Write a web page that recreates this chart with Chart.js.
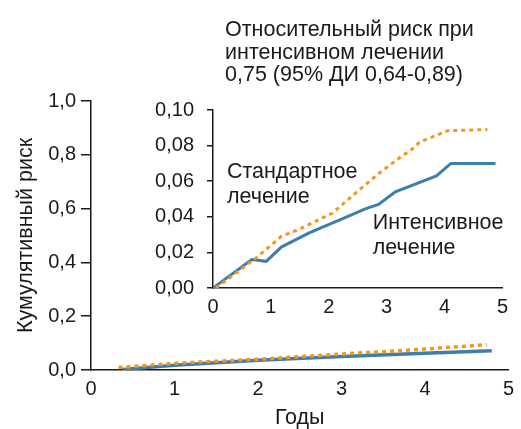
<!DOCTYPE html>
<html>
<head>
<meta charset="utf-8">
<script src="https://cdn.jsdelivr.net/npm/chart.js@4"></script>
<style>
    body { margin: 0; background: #fff; }
    #wrap { position: relative; width: 521px; height: 429px; }
    #main_chart { position: absolute; left: 0; top: 0; }
    #inset_chart { position: absolute; left: 120px; top: 85px; }
</style>
</head>
<body>
<div id="wrap">
    <canvas id="main_chart" width="521" height="429"></canvas>
    <canvas id="inset_chart" width="395" height="240"></canvas>
</div>
<script>
// main chart (full 0-1 scale)
const mainIntensiveYears = [0.38, 1, 2, 3, 4, 4.8];
const mainIntensiveRisk = [0.002, 0.018, 0.036, 0.05, 0.062, 0.072];
const mainStandardYears = [0.33, 1, 2, 3, 4, 4.74];
const mainStandardRisk = [0.009, 0.025, 0.04, 0.059, 0.078, 0.094];

// inset (0-0.10 scale)
const intensiveYears = [0, 0.67, 0.92, 1.18, 1.66, 2.17, 2.63, 2.86, 3.15, 3.86, 4.11, 4.88];
const intensiveRisk = [0, 0.016, 0.015, 0.023, 0.031, 0.038, 0.0445, 0.047, 0.054, 0.063, 0.070, 0.070];
const standardYears = [0.05, 0.75, 1.18, 1.49, 2.06, 2.63, 2.89, 3.15, 3.43, 3.57, 4.06, 4.74];
const standardRisk = [0, 0.017, 0.029, 0.033, 0.042, 0.058, 0.065, 0.0714, 0.0778, 0.082, 0.0884, 0.089];

const noteLines = ['Относительный риск при', 'интенсивном лечении', '0,75 (95% ДИ 0,64-0,89)'];
const standardLabel = ['Стандартное', 'лечение'];
const intensiveLabel = ['Интенсивное', 'лечение'];

const blue = '#3d7eab';
const orange = '#f7941d';
const ink = '#1a1a1a';
const fontFamily = '"Liberation Sans", Arial, sans-serif';
const textSize = 21.5;
const tickSize = 20;

const toPoints = (xs, ys) => xs.map((x, i) => ({x: x, y: ys[i]}));

const lineSet = (label, xs, ys, color, dashed, width) => ({
    label: label,
    data: toPoints(xs, ys),
    borderColor: color,
    borderWidth: width,
    borderDash: dashed ? [4, 4] : [],
    pointRadius: 0,
    tension: 0,
    fill: false,
});

const noteLinesPlugin = {
    id: 'noteLines',
    afterDraw(chart) {
        const ctx = chart.ctx;
        ctx.save();
        ctx.font = textSize + 'px ' + fontFamily;
        ctx.fillStyle = ink;
        ctx.textBaseline = 'alphabetic';
        noteLines.forEach((line, i) => {
            ctx.fillText(line, 225, 36 + i * 22.5);
        });
        ctx.restore();
    },
};

const seriesLabelsPlugin = {
    id: 'seriesLabels',
    afterDatasetsDraw(chart) {
        const ctx = chart.ctx;
        const xs = chart.scales.x;
        const ys = chart.scales.y;
        ctx.save();
        ctx.font = textSize + 'px ' + fontFamily;
        ctx.fillStyle = ink;
        ctx.textBaseline = 'alphabetic';
        standardLabel.forEach((line, i) => {
            ctx.fillText(line, xs.getPixelForValue(0.24), ys.getPixelForValue(0.0617) + i * 24.5);
        });
        intensiveLabel.forEach((line, i) => {
            ctx.fillText(line, xs.getPixelForValue(2.76), ys.getPixelForValue(0.0329) + i * 24.5);
        });
        ctx.restore();
    },
};

const mainChartConfig = {
    type: 'line',
    data: {
        datasets: [
            lineSet('Стандартное лечение', mainStandardYears, mainStandardRisk, orange, true, 3.5),
            lineSet('Интенсивное лечение', mainIntensiveYears, mainIntensiveRisk, blue, false, 3.5),
        ],
    },
    options: {
        responsive: false,
        animation: false,
        events: [],
        layout: {
            padding: {top: 101, right: 6, bottom: 0, left: 0},
        },
        plugins: {
            legend: {display: false},
            tooltip: {enabled: false},
        },
        scales: {
            x: {
                type: 'linear',
                min: 0,
                max: 5,
                ticks: {
                    stepSize: 1,
                    color: ink,
                    padding: 7,
                    font: {family: fontFamily, size: tickSize},
                },
                grid: {drawOnChartArea: false, drawTicks: false},
                border: {color: ink, width: 1.5},
                title: {
                    display: true,
                    text: 'Годы',
                    color: ink,
                    font: {family: fontFamily, size: textSize},
                    padding: {top: 0, bottom: -2},
                },
                afterFit(scale) { scale.height = 59; },
            },
            y: {
                min: 0,
                max: 1,
                ticks: {
                    stepSize: 0.2,
                    color: ink,
                    padding: 5,
                    font: {family: fontFamily, size: tickSize},
                    callback: (value) => value.toFixed(1).replace('.', ','),
                },
                grid: {drawOnChartArea: false, drawTicks: true, tickLength: 10, color: ink, lineWidth: 1.5},
                border: {color: ink, width: 1.5},
                title: {
                    display: true,
                    text: 'Кумулятивный риск',
                    color: ink,
                    font: {family: fontFamily, size: textSize},
                    padding: {top: 13, bottom: 0},
                },
                afterFit(scale) { scale.width = 91; },
            },
        },
    },
    plugins: [noteLinesPlugin],
}
const mainChart = new Chart(document.getElementById('main_chart'), mainChartConfig);

const insetChartConfig = {
    type: 'line',
    data: {
        datasets: [
            lineSet('Стандартное лечение', standardYears, standardRisk, orange, true, 3),
            lineSet('Интенсивное лечение', intensiveYears, intensiveRisk, blue, false, 3),
        ],
    },
    options: {
        responsive: false,
        animation: false,
        events: [],
        layout: {
            padding: {top: 16, right: 10, bottom: 0, left: 0},
        },
        plugins: {
            legend: {display: false},
            tooltip: {enabled: false},
        },
        scales: {
            x: {
                type: 'linear',
                min: 0,
                max: 5,
                ticks: {
                    stepSize: 1,
                    color: ink,
                    padding: 7,
                    font: {family: fontFamily, size: tickSize},
                },
                grid: {drawOnChartArea: false, drawTicks: false},
                border: {color: ink, width: 1.5},
                afterFit(scale) { scale.height = 37; },
            },
            y: {
                min: 0,
                max: 0.1,
                ticks: {
                    stepSize: 0.02,
                    color: ink,
                    padding: 13,
                    font: {family: fontFamily, size: tickSize},
                    callback: (value) => value.toFixed(2).replace('.', ','),
                },
                grid: {drawOnChartArea: false, drawTicks: true, tickLength: 6, color: ink, lineWidth: 1.5},
                border: {color: ink, width: 1.5},
                afterFit(scale) { scale.width = 93; },
            },
        },
    },
    plugins: [seriesLabelsPlugin],
}
const insetChart = new Chart(document.getElementById('inset_chart'), insetChartConfig);
</script>
</body>
</html>
